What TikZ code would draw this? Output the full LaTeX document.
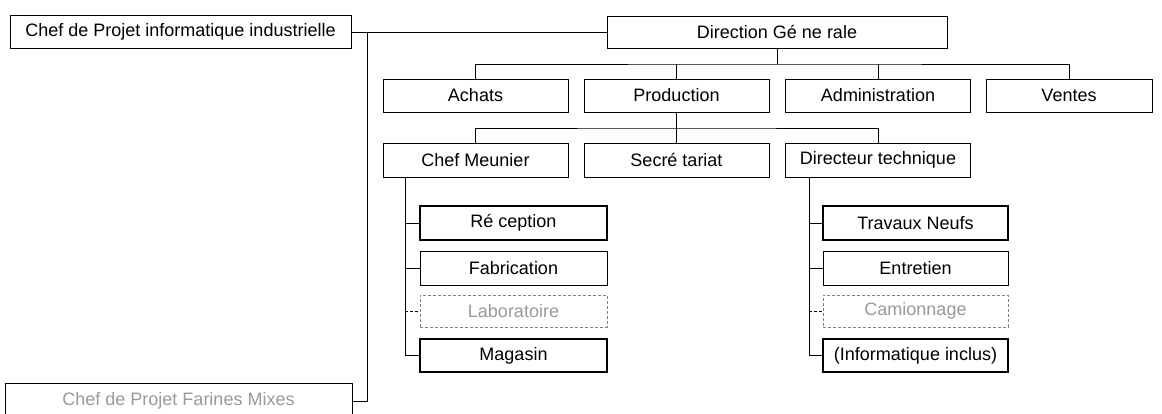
\documentclass[tikz,border=0pt]{standalone}
\usepackage{fontspec}
\setmainfont{Liberation Sans}
\begin{document}
\begin{tikzpicture}[x=1pt,y=-1pt,
  box/.style={draw, line width=0.9pt, inner sep=0pt, minimum height=33pt, minimum width=185pt, font=\fontsize{18}{20}\selectfont},
  boldbox/.style={box, line width=1.4pt},
  faintbox/.style={box, draw=gray, densely dashed, text=gray!80},
  conn/.style={line width=0.9pt}]
\useasboundingbox (0,0) rectangle (1162,413);
\clip (0,0) rectangle (1162,413);
% top level
\node[box, minimum width=341pt] (chefinfo) at (180.5,32) {Chef de Projet informatique industrielle};
\node[box, minimum width=340pt, minimum height=32pt] (dg) at (777,32) {Direction Gé ne rale};
% row 2
\node[box] (achats) at (475.5,95.5) {Achats};
\node[box] (production) at (676.5,95.5) {Production};
\node[box] (admin) at (878,95.5) {Administration};
\node[box, minimum width=166pt] (ventes) at (1069,95.5) {Ventes};
% row 3
\node[box, minimum height=34pt] (meunier) at (475.5,160) {Chef Meunier};
\node[box, minimum height=34pt] (secr) at (676.5,160) {Secré tariat};
\node[box, minimum height=34pt] (dirtech) at (878,160) {Directeur technique};
% Chef Meunier children
\node[boldbox, minimum width=187pt, minimum height=34pt] (reception) at (513.5,223) {Ré ception};
\node[box, minimum width=187pt, minimum height=34pt] (fabrication) at (513.5,268) {Fabrication};
\node[faintbox, minimum width=187pt, minimum height=32pt] (labo) at (513.5,311) {Laboratoire};
\node[boldbox, minimum width=187pt] (magasin) at (513.5,355.5) {Magasin};
% Directeur technique children
\node[boldbox, minimum height=34pt] (travaux) at (915.5,223) {Travaux Neufs};
\node[box, minimum height=34pt] (entretien) at (915.5,268) {Entretien};
\node[faintbox, minimum height=32pt] (camion) at (915.5,311) {Camionnage};
\node[boldbox] (infoinc) at (915.5,355.5) {(Informatique inclus)};
% bottom staff box
\node[box, draw=black, minimum width=347pt, minimum height=36pt, text=gray!80] (farines) at (178.5,401) {Chef de Projet Farines Mixes};
% staff connectors
\coordinate (spine) at (367,32);
\draw[conn] (chefinfo.east) -- (dg.west);
\draw[conn] (spine) |- (farines.east);
% row 2 bus
\coordinate (b1) at (777,64);
\draw[conn] (dg.south) -- (b1);
\draw[conn] (achats.north) |- (b1) -| (ventes.north);
\draw[conn] (production.north) -- (production.north |- b1);
\draw[conn] (admin.north) -- (admin.north |- b1);
% row 3 bus
\coordinate (b2) at (676.5,128);
\draw[conn] (production.south) -- (b2);
\draw[conn] (meunier.north) |- (b2) -| (dirtech.north);
\draw[conn] (secr.north) -- (secr.north |- b2);
% Chef Meunier branch
\coordinate (m) at (405,177);
\draw[conn] (m) |- (magasin.west);
\draw[conn] (m |- reception.west) -- (reception.west);
\draw[conn] (m |- fabrication.west) -- (fabrication.west);
\draw[conn, densely dashed] (m |- labo.west) -- (labo.west);
% Directeur technique branch
\coordinate (d) at (809,177);
\draw[conn] (d) |- (infoinc.west);
\draw[conn] (d |- travaux.west) -- (travaux.west);
\draw[conn] (d |- entretien.west) -- (entretien.west);
\draw[conn, densely dashed] (d |- camion.west) -- (camion.west);
\end{tikzpicture}
\end{document}
